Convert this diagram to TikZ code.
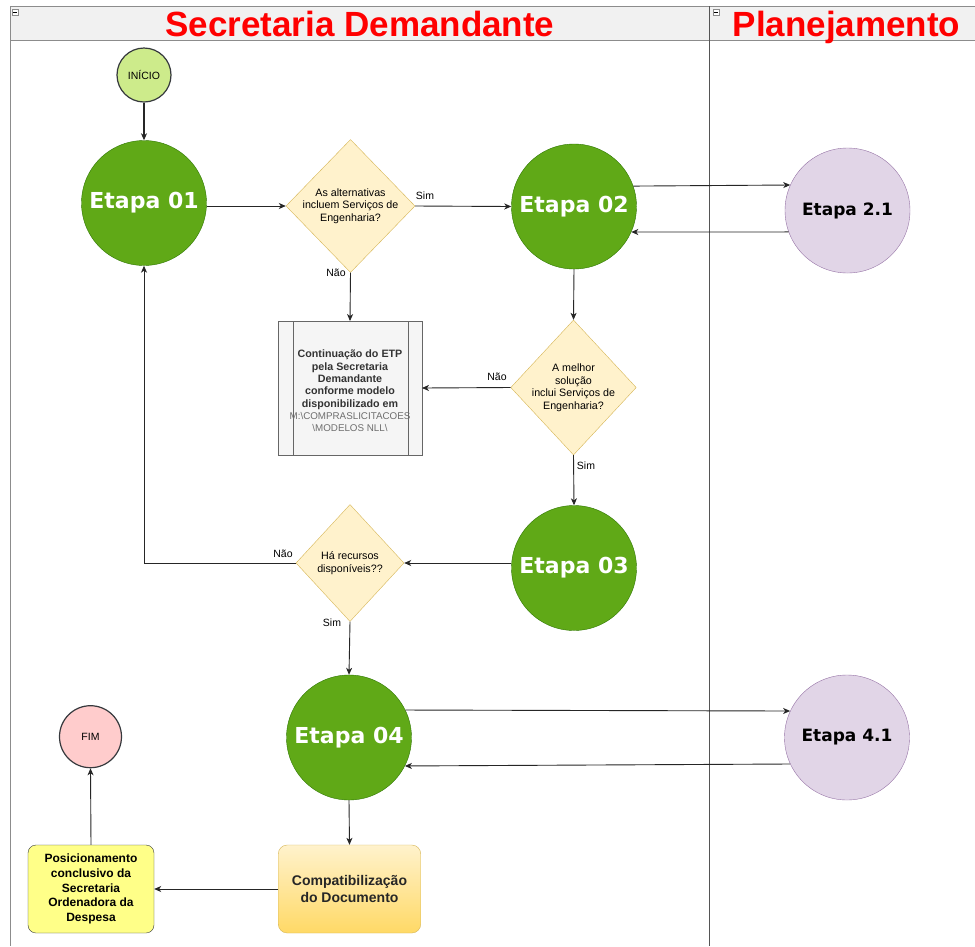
\documentclass[tikz,border=0pt]{standalone}
\usepackage{fontspec}
\setmainfont{Liberation Sans}
\newfontfamily\verd{DejaVu Sans}
\usetikzlibrary{shapes.geometric,arrows.meta,calc}
\definecolor{greenfill}{HTML}{60A917}
\definecolor{greenline}{HTML}{2D7600}
\definecolor{lightgreen}{HTML}{CDEB8B}
\definecolor{darkline}{HTML}{36393D}
\definecolor{pinkfill}{HTML}{FFCCCC}
\definecolor{yelfill}{HTML}{FFF2CC}
\definecolor{yelline}{HTML}{D6B656}
\definecolor{goldfill}{HTML}{FFD966}
\definecolor{notefill}{HTML}{FFFF88}
\definecolor{purfill}{HTML}{E1D5E7}
\definecolor{purline}{HTML}{9673A6}
\definecolor{procfill}{HTML}{F5F5F5}
\definecolor{procline}{HTML}{666666}
\definecolor{headfill}{HTML}{F1F1F1}
\definecolor{poolline}{HTML}{8C8C8C}
\definecolor{divline}{HTML}{555555}
\definecolor{headred}{HTML}{FF0000}
\definecolor{pathgray}{HTML}{6E6E6E}
\begin{document}
\begin{tikzpicture}[x=1pt,y=-1pt,
  etapa/.style={circle, draw=greenline, fill=greenfill, minimum size=125pt, inner sep=0pt, text=white, font=\verd\bfseries\fontsize{22}{25}\selectfont},
  subetapa/.style={circle, draw=purline, fill=purfill, minimum size=125pt, inner sep=0pt, text=black, font=\verd\bfseries\fontsize{17}{20}\selectfont},
  term/.style={circle, draw=darkline, line width=1.2pt, inner sep=0pt, font=\fontsize{10.5}{12}\selectfont},
  decision/.style={diamond, draw=yelline, fill=yelfill, inner sep=0pt},
  dtext/.style={align=center, font=\fontsize{10.7}{12.5}\selectfont, inner sep=0pt},
  lbl/.style={font=\fontsize{10.5}{12}\selectfont, inner sep=0pt},
  arr/.style={draw=black!85, line width=0.9pt, -{Stealth[length=7pt,width=6pt,inset=2pt]}},
  headtxt/.style={text=headred, font=\bfseries\fontsize{35}{40}\selectfont, inner sep=0pt, anchor=base},
  minusbox/.style={draw=poolline, fill=white, minimum size=6pt, inner sep=0pt}
]
\useasboundingbox (0,0) rectangle (975,946);
\fill[white] (0,0) rectangle (975,946);
% pool / lanes
\fill[headfill] (10,6) rectangle (975,40);
\draw[poolline, line width=0.8pt] (975,6) -- (10,6) -- (10,946);
\draw[poolline, line width=0.8pt] (10,40) -- (975,40);
\draw[divline, line width=0.8pt] (709.5,6) -- (709.5,946);
\node[minusbox] (mb1) at (15,12) {};
\draw[black, line width=0.5pt] ($(mb1.west)+(1.5,0)$) -- ($(mb1.east)+(-1.5,0)$);
\node[minusbox] (mb2) at (716,12) {};
\draw[black, line width=0.5pt] ($(mb2.west)+(1.5,0)$) -- ($(mb2.east)+(-1.5,0)$);
\node[headtxt] (h1) at (360,36.5) {Secretaria Demandante};
\node[headtxt] (h2) at (846.5,36.5) {Planejamento};

% nodes
\node[term, fill=lightgreen, minimum size=54pt] (ini) at (144,75) {INÍCIO};
\node[etapa] (e01) at (144,203) {Etapa 01};
\node[decision, minimum width=129pt, minimum height=133pt] (d1) at (350.5,206) {};
\node[dtext] (d1t) at (350.5,206) {As alternativas\\incluem Serviços de\\Engenharia?};
\node[etapa] (e02) at (574,206.5) {Etapa 02};
\node[subetapa] (e21) at (847.5,210.5) {Etapa 2.1};

\node[draw=procline, fill=procfill, minimum width=143.5pt, minimum height=133.5pt, inner sep=0pt] (proc) at (350,388) {};
\draw[procline] ($(proc.north west)+(15,0)$) -- ($(proc.south west)+(15,0)$);
\draw[procline] ($(proc.north east)+(-14,0)$) -- ($(proc.south east)+(-14,0)$);
\node[align=center, inner sep=0pt, text=black!80, font=\fontsize{10.7}{12.3}\selectfont] (proct) at (350,391) {\textbf{Continuação do ETP}\\\textbf{pela Secretaria}\\\textbf{Demandante}\\\textbf{conforme modelo}\\\textbf{disponibilizado em}\\\textcolor{pathgray}{\fontsize{9.8}{12.3}\selectfont M:\textbackslash COMPRASLICITACOES}\\\textcolor{pathgray}{\fontsize{9.8}{12.3}\selectfont \textbackslash MODELOS NLL\textbackslash}};

\node[decision, minimum width=125.5pt, minimum height=135pt] (d2) at (573.5,387.5) {};
\node[dtext] (d2t) at (573.5,387.5) {A melhor\\solução\\inclui Serviços de\\Engenharia?};
\node[etapa] (e03) at (574,568) {Etapa 03};
\node[decision, minimum width=108pt, minimum height=117pt] (d3) at (350,563) {};
\node[dtext] (d3t) at (350,563) {Há recursos\\disponíveis??};
\node[etapa] (e04) at (349,737.5) {Etapa 04};
\node[subetapa] (e41) at (847,737.5) {Etapa 4.1};
\node[term, fill=pinkfill, minimum size=62pt] (fim) at (90.5,736.7) {FIM};

\node[draw=yelline, rounded corners=9pt, top color=yelfill, bottom color=goldfill, minimum width=142.5pt, minimum height=88pt, inner sep=0pt, align=center, font=\bfseries\fontsize{14}{17.3}\selectfont, text=black!85] (comp) at (349.5,889) {Compatibilização\\do Documento};
\node[draw=darkline, rounded corners=8pt, fill=notefill, minimum width=126pt, minimum height=88pt, inner sep=0pt, align=center, font=\bfseries\fontsize{12}{14.7}\selectfont] (pos) at (91,889) {Posicionamento\\conclusivo da\\Secretaria\\Ordenadora da\\Despesa};

% connectors
\draw[arr, line width=1.8pt] (ini.south) -- (e01.north);
\draw[arr] (d1.west -| e01.east) -- (d1.west);
\draw[arr] (d1.east) -- (e02.west);
\node[lbl] (l1) at (425,196) {Sim};
\draw[arr] (d1.south) -- (proc.north);
\node[lbl] (l2) at (336,273) {Não};
\draw[arr] (e02.19.5) -- (e21.156.4);
\draw[arr] (e21.200) -- (e02.-24);
\draw[arr] (e02.south) -- (d2.north);
\draw[arr] (d2.west) -- (proc.east);
\node[lbl] (l3) at (497,377) {Não};
\draw[arr] (d2.south) -- (e03.north);
\node[lbl] (l4) at (586,466) {Sim};
\draw[arr] (d3.east -| e03.west) -- (d3.east);
\draw[arr] (d3.west) -| (e01.south);
\node[lbl] (l5) at (283,554) {Não};
\draw[arr] (d3.south) -- (e04.north);
\node[lbl] (l6) at (332,623) {Sim};
\draw[arr] (e04.26.6) -- (e41.155.4);
\draw[arr] (e41.205.4) -- (e04.-27.1);
\draw[arr] (e04.south) -- (comp.north);
\draw[arr] (comp.west) -- (pos.east);
\draw[arr] (pos.north) -- (fim.south);
\end{tikzpicture}
\end{document}
